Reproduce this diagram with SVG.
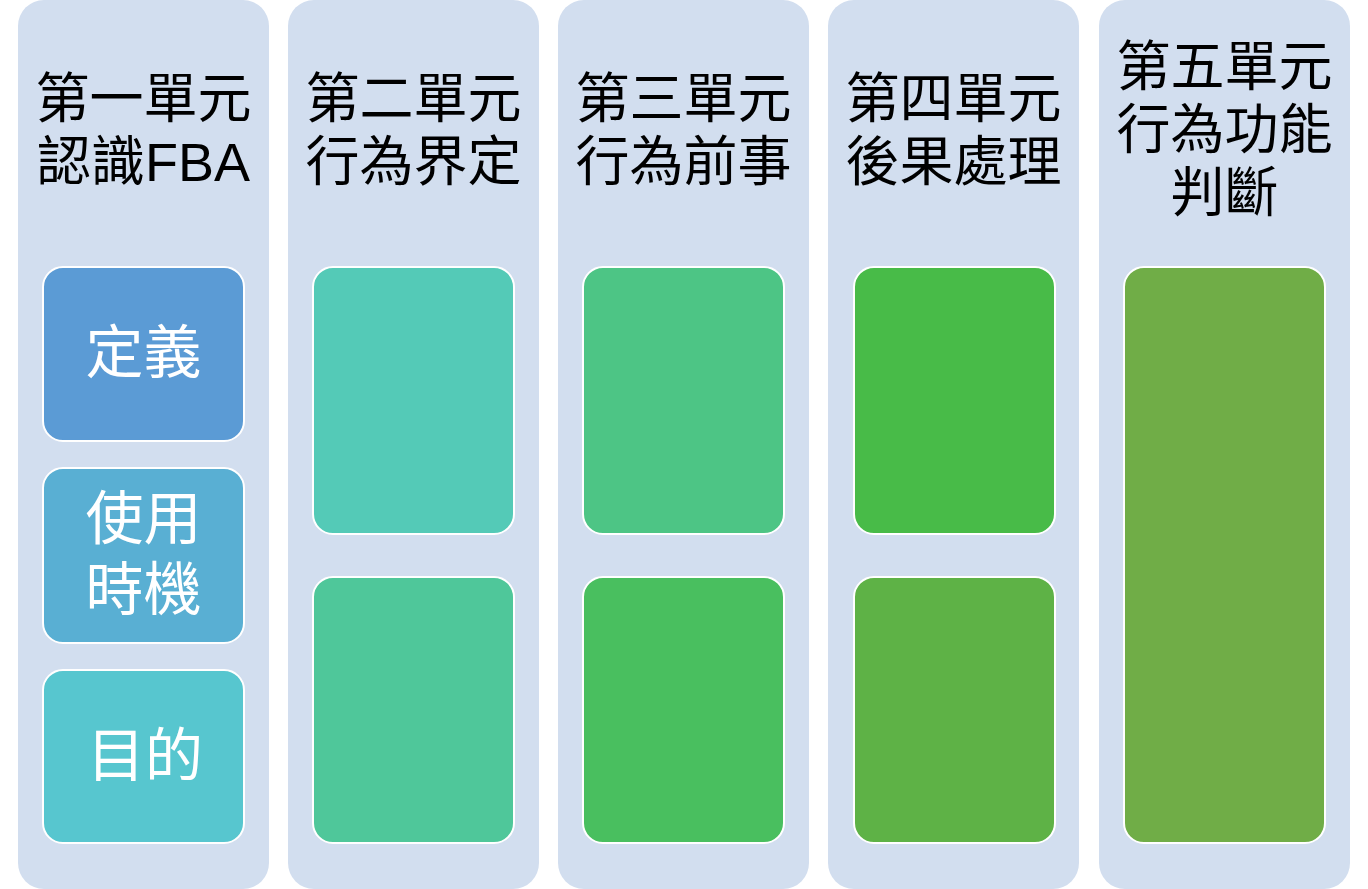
<svg xmlns="http://www.w3.org/2000/svg" width="1368" height="889" viewBox="0 0 1368 889">
<style>
.col{fill:#D2DEEF}
.box{stroke:#FFFFFF;stroke-width:2}
.t{font-family:"Liberation Sans","Noto Sans CJK TC",sans-serif;font-size:54px;fill:#000;text-anchor:middle}
.w{font-family:"Liberation Sans","Noto Sans CJK TC",sans-serif;font-size:58px;fill:#FFF;text-anchor:middle}
</style>
<rect width="1368" height="889" fill="#FFFFFF"/>
<g id="unit1">
<rect class="col" x="18" y="0" width="251" height="889" rx="26"/>
<text class="t" x="143.5" y="118">第一單元</text>
<text class="t" x="143.5" y="181">認識FBA</text>
</g>
<g id="unit1-def">
<rect class="box" x="43" y="267" width="201" height="174" rx="20" fill="#5B9BD5"/>
<text class="w" x="143.5" y="373">定義</text>
</g>
<g id="unit1-when">
<rect class="box" x="43" y="468" width="201" height="175" rx="20" fill="#59AFD3"/>
<text class="w" x="143.5" y="539">使用</text>
<text class="w" x="143.5" y="610">時機</text>
</g>
<g id="unit1-goal">
<rect class="box" x="43" y="670" width="201" height="173" rx="20" fill="#57C6CF"/>
<text class="w" x="145" y="776">目的</text>
</g>
<g id="unit2">
<rect class="col" x="288" y="0" width="251" height="889" rx="26"/>
<text class="t" x="413.5" y="118">第二單元</text>
<text class="t" x="413.5" y="181">行為界定</text>
<rect class="box" x="313" y="267" width="201" height="267" rx="20" fill="#54CAB7"/>
<rect class="box" x="313" y="577" width="201" height="266" rx="20" fill="#4FC79A"/>
</g>
<g id="unit3">
<rect class="col" x="558" y="0" width="251" height="889" rx="26"/>
<text class="t" x="683.5" y="118">第三單元</text>
<text class="t" x="683.5" y="181">行為前事</text>
<rect class="box" x="583" y="267" width="201" height="267" rx="20" fill="#4DC585"/>
<rect class="box" x="583" y="577" width="201" height="266" rx="20" fill="#49BF5F"/>
</g>
<g id="unit4">
<rect class="col" x="828" y="0" width="251" height="889" rx="26"/>
<text class="t" x="953.5" y="118">第四單元</text>
<text class="t" x="953.5" y="181">後果處理</text>
<rect class="box" x="854" y="267" width="201" height="267" rx="20" fill="#48BB48"/>
<rect class="box" x="854" y="577" width="201" height="266" rx="20" fill="#5EB246"/>
</g>
<g id="unit5">
<rect class="col" x="1099" y="0" width="251" height="889" rx="26"/>
<text class="t" x="1224.5" y="86">第五單元</text>
<text class="t" x="1224.5" y="149">行為功能</text>
<text class="t" x="1224.5" y="212">判斷</text>
<rect class="box" x="1124" y="267" width="201" height="576" rx="20" fill="#70AD47"/>
</g>
<g id="connectors"></g>
</svg>
